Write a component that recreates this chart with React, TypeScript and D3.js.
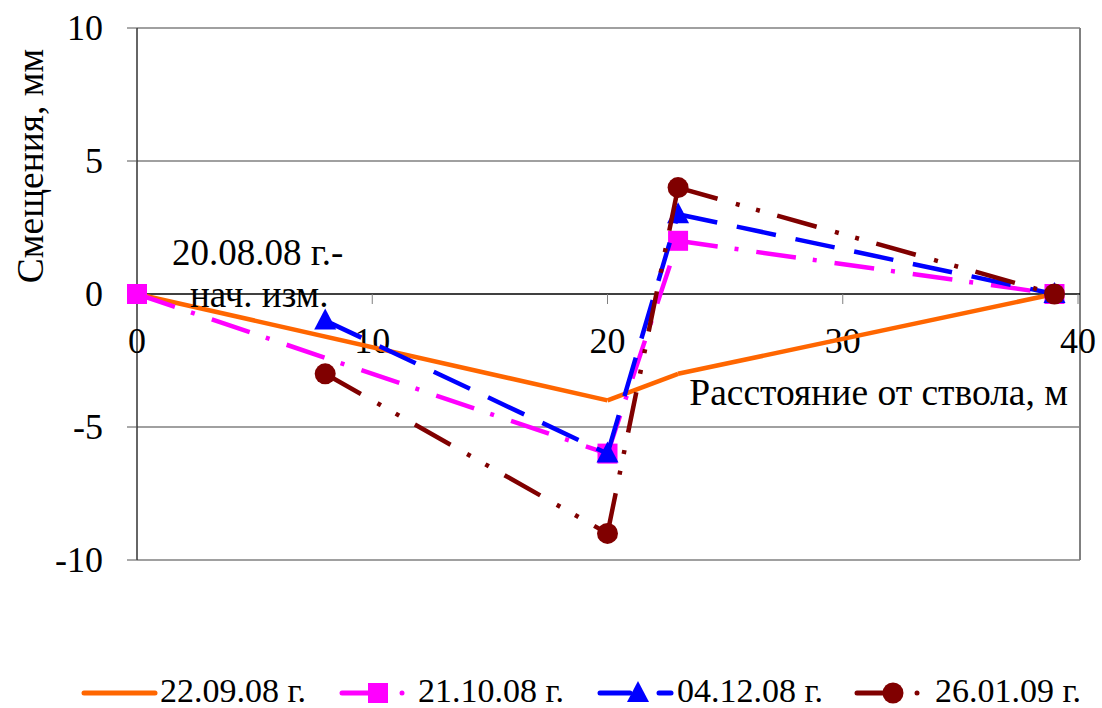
import React from "react";
import * as d3 from "d3";

const xTicks = [0, 10, 20, 30, 40];
const yTicks = [-10, -5, 0, 5, 10];

const s1x = [0, 20, 23, 39];
const s1y = [0, -4, -3, 0];
const s2x = [0, 20, 23, 39];
const s2y = [0, -6, 2, 0];
const s3x = [8, 20, 23, 39];
const s3y = [-1, -6, 3, 0];
const s4x = [8, 20, 23, 39];
const s4y = [-3, -9, 4, 0];

const seriesNames = ["22.09.08 г.", "21.10.08 г.", "04.12.08 г.", "26.01.09 г."];

const FONT = "Liberation Serif";

const series = [
  { name: seriesNames[0], xs: s1x, ys: s1y, color: "#FF6600", dash: "", marker: "none" },
  { name: seriesNames[1], xs: s2x, ys: s2y, color: "#FF00FF", dash: "40 17 4 18", marker: "square" },
  { name: seriesNames[2], xs: s3x, ys: s3y, color: "#0000FF", dash: "40 20", marker: "triangle" },
  { name: seriesNames[3], xs: s4x, ys: s4y, color: "#800000", dash: "41 19 4 17 4 18", marker: "circle" },
];

function Marker({ type, x, y, color }: { type: string; x: number; y: number; color: string }) {
  if (type === "square") return <rect x={x - 10} y={y - 10} width={20} height={20} fill={color} />;
  if (type === "triangle")
    return <path d={`M${x},${y - 12}L${x + 11},${y + 9}L${x - 11},${y + 9}Z`} fill={color} />;
  if (type === "circle") return <circle cx={x} cy={y} r={10.5} fill={color} />;
  return null;
}

export default function App() {
  const W = 1102, H = 708;
  const x = d3.scaleLinear().domain([0, 40]).range([137, 1078]);
  const y = d3.scaleLinear().domain([-10, 10]).range([560, 28]);
  const line = d3.line<[number, number]>().x((d) => x(d[0])).y((d) => y(d[1]));

  const legendItems = [
    { lx: 84, lx2: 155, mx: 0, tx: 160, tail: 0 },
    { lx: 342, lx2: 370, mx: 378, tx: 418, tail: 402 },
    { lx: 600, lx2: 630, mx: 638, tx: 677, tail: 665 },
    { lx: 857, lx2: 885, mx: 893, tx: 935, tail: 917 },
  ];
  const ts = { fontFamily: FONT, fontSize: 36 };
  const ta = { fontFamily: FONT, fontSize: 37 };
  const tt = { fontFamily: FONT, fontSize: 37.5 };
  const LY = 693;

  return (
    <svg width={W} height={H} style={{ position: "absolute", left: 0, top: 0, background: "#fff", fontFamily: FONT }}>
      <rect x={0} y={0} width={W} height={H} fill="#fff" />
      {yTicks.filter((t) => t !== 0).map((t) => (
        <line key={t} x1={137} x2={1080} y1={y(t)} y2={y(t)} stroke="#808080" strokeWidth={1.3} />
      ))}
      <line x1={1080} x2={1080} y1={28} y2={560} stroke="#808080" strokeWidth={2} />
      <line x1={137} x2={137} y1={28} y2={560} stroke="#333" strokeWidth={1.5} />
      {yTicks.map((t) => (
        <g key={t}>
          <line x1={127} x2={137} y1={y(t)} y2={y(t)} stroke="#555" strokeWidth={1} />
          <text x={103} y={y(t)} dy="0.34em" textAnchor="end" style={ts}>
            {t}
          </text>
        </g>
      ))}
      <line x1={137} x2={1080} y1={y(0)} y2={y(0)} stroke="#000" strokeWidth={1.3} />
      {xTicks.map((t) => (
        <g key={t}>
          <line x1={x(t)} x2={x(t)} y1={y(0)} y2={y(0) + 10} stroke="#808080" strokeWidth={1} />
          <text x={x(t)} y={y(0) + 59} textAnchor="middle" style={ts}>
            {t}
          </text>
        </g>
      ))}
      {series.map((s, i) => {
        const pts: [number, number][] = s.xs.map((v, j) => [v, s.ys[j]]);
        return (
          <g key={i}>
            {pts.slice(1).map((p, j) => (
              <path
                key={j}
                d={line([pts[j], p]) || ""}
                fill="none"
                stroke={s.color}
                strokeWidth={4.5}
                strokeDasharray={s.dash}
              />
            ))}
            {pts.map((p, j) => (
              <Marker key={j} type={s.marker} x={x(p[0])} y={y(p[1])} color={s.color} />
            ))}
          </g>
        );
      })}
      <text x={172} y={265} style={ta}>20.08.08 г.-</text>
      <text x={190} y={307} style={ta}>нач. изм.</text>
      <text x={1068} y={405} textAnchor="end" style={tt}>Расстояние от ствола, м</text>
      <text transform="translate(43,166) rotate(-90)" textAnchor="middle" style={tt}>
        Смещения, мм
      </text>
      {series.map((s, i) => {
        const it = legendItems[i];
        return (
          <g key={i}>
            <line x1={it.lx} x2={it.lx2} y1={LY} y2={LY} stroke={s.color} strokeWidth={5} strokeLinecap="round" />
            {s.marker !== "none" && <Marker type={s.marker} x={it.mx} y={LY} color={s.color} />}
            {s.marker === "triangle" && (
              <line x1={it.tail - 6} x2={it.tail + 6} y1={LY} y2={LY} stroke={s.color} strokeWidth={5} strokeLinecap="round" />
            )}
            {(s.marker === "square" || s.marker === "circle") && <circle cx={it.tail} cy={LY} r={2.5} fill={s.color} />}
            <text x={it.tx} y={702} style={{ fontFamily: FONT, fontSize: 34 }}>
              {s.name}
            </text>
          </g>
        );
      })}
    </svg>
  );
}
